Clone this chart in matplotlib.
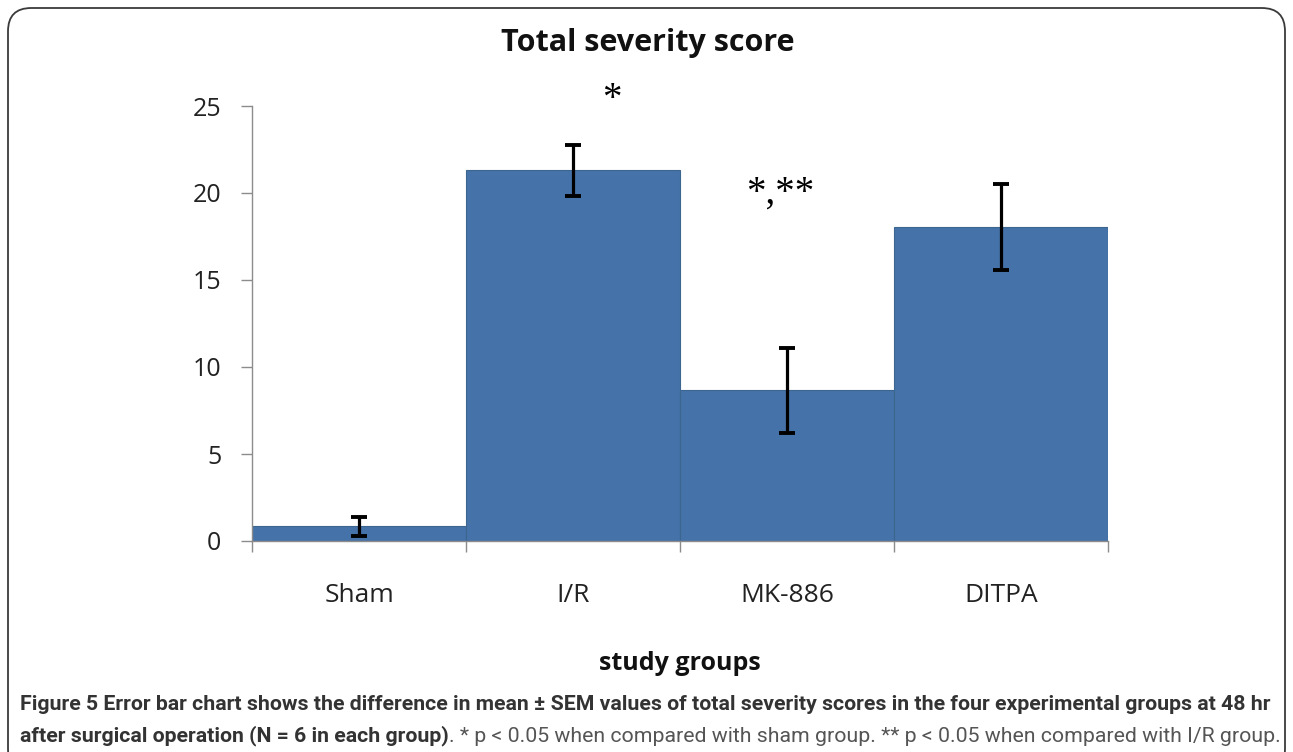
import matplotlib
matplotlib.use("Agg")
import matplotlib.pyplot as plt
from matplotlib.patches import FancyBboxPatch
import numpy as np

categories = ["Sham", "I/R", "MK-886", "DITPA"]
means = [0.85, 21.3, 8.65, 18.05]
sems = [0.55, 1.48, 2.45, 2.45]
annotations = ["", "*", "*,**", ""]
annot_x = [None, 1.68, 2.47, None]
annot_y = [None, 25.4, 20.0, None]
yticks = [0, 5, 10, 15, 20, 25]

W, H = 1293, 752
fig = plt.figure(figsize=(W / 100, H / 100), dpi=100)

# Rounded frame
frame = FancyBboxPatch((8 / W, -20 / H), (W - 16) / W, (H + 12) / H,
                       boxstyle="round,pad=0,rounding_size=0.018",
                       transform=fig.transFigure, fill=False,
                       edgecolor="#3a3a3a", linewidth=1.3, mutation_aspect=W / H)
fig.patches.append(frame)

ax = fig.add_axes([252 / W, 1 - 541 / H, (1108 - 252) / W, (541 - 106) / H])
x = np.arange(len(categories)) + 0.5
ax.bar(x, means, width=1.0, color="#4572A8", edgecolor="#3C6590", linewidth=0.8, zorder=2)
ax.errorbar(x, means, yerr=sems, fmt="none", ecolor="black", elinewidth=2.3,
            capsize=5.8, capthick=2.8, zorder=3)

for xi, txt, yy in zip(annot_x, annotations, annot_y):
    if txt:
        ax.text(xi, yy, txt, ha="center", va="center", fontsize=28,
                family="Liberation Serif", color="black", clip_on=False)

ax.set_xlim(0, 4)
ax.set_ylim(0, 25)
ax.set_yticks(yticks)
ax.set_yticklabels([str(v) for v in yticks], fontsize=18, family="Open Sans", color="#222222")
ax.set_xticks(np.arange(0, 5))
ax.set_xticklabels([])
ax.set_xticks(x, minor=True)
ax.set_xticklabels(categories, minor=True, fontsize=19, family="Open Sans", color="#222222")
ax.tick_params(axis="x", which="minor", length=0, pad=30)
ax.tick_params(axis="x", which="major", length=8, width=1, color="#8c8c8c", direction="out")
ax.tick_params(axis="y", length=8, width=1, color="#8c8c8c", direction="out", pad=14)

for s in ["top", "right"]:
    ax.spines[s].set_visible(False)
for s in ["left", "bottom"]:
    ax.spines[s].set_color("#8c8c8c")
    ax.spines[s].set_linewidth(1.0)

fig.text(648 / W, 1 - 43 / H, "Total severity score", ha="center", va="center",
         fontsize=22, fontweight="bold", family="Open Sans", color="#111111")
fig.text(680 / W, 1 - 663 / H, "study groups", ha="center", va="center",
         fontsize=18, fontweight="bold", family="Open Sans", color="#111111")

cap_font = ["Roboto", "DejaVu Sans"]
line1 = "Figure 5 Error bar chart shows the difference in mean \u00b1 SEM values of total severity scores in the four experimental groups at 48 hr"
t1 = fig.text(20 / W, 1 - 710 / H, line1, ha="left", va="baseline", fontsize=14,
              fontweight="bold", family=cap_font, color="#333333")
fig.canvas.draw()
r = fig.canvas.get_renderer()
w = t1.get_window_extent(r).width
cap_size = 14 * (1258 / w)
t1.set_fontsize(cap_size)
t2 = fig.text(20 / W, 1 - 741 / H,
              "after surgical operation (N = 6 in each group)",
              ha="left", va="baseline", fontsize=cap_size, fontweight="bold", family=cap_font, color="#333333")
fig.canvas.draw()
ax.annotate(". * p < 0.05 when compared with sham group. ** p < 0.05 when compared with I/R group.",
            xy=(1, 0), xycoords=t2, ha="left", va="bottom", fontsize=cap_size,
            family=cap_font, color="#555555", annotation_clip=False)

fig.savefig("out.png", dpi=100)
